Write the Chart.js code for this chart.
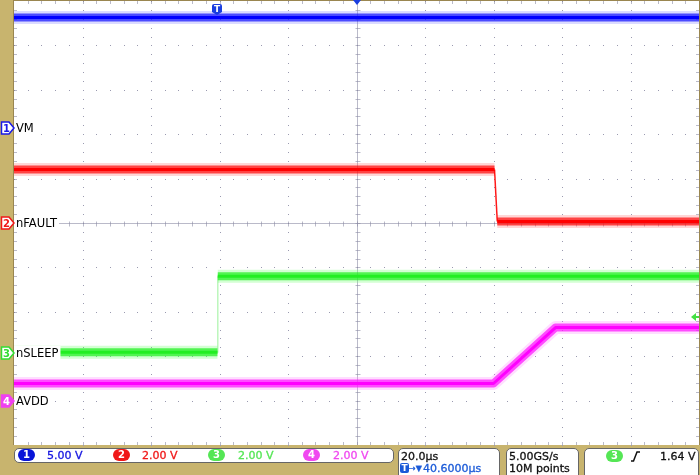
<!DOCTYPE html>
<html>
<head>
<meta charset="utf-8">
<script src="https://cdn.jsdelivr.net/npm/chart.js@4.4.0/dist/chart.umd.min.js"></script>
<style>
  html, body { margin: 0; padding: 0; background: #c8b46e; }
  #wrap { position: relative; width: 700px; height: 475px; overflow: hidden; font-family: "DejaVu Sans", sans-serif; }
  #scope { position: absolute; left: 0; top: 0; }
  .box { position: absolute; background: #fff; border: 1px solid #666; border-radius: 5px; box-sizing: border-box; }
  .txt { position: absolute; font-size: 11px; line-height: 13px; white-space: nowrap; -webkit-text-stroke: 0.3px currentColor; }
  .badge { position: absolute; top: 449px; width: 17px; height: 12px; border-radius: 6px; color: #fff;
           font: bold 10px "DejaVu Sans", sans-serif; line-height: 12px; text-align: center; }
</style>
</head>
<body>
<div id="wrap">
  <canvas id="scope" width="700" height="475"></canvas>

  <!-- vertical settings -->
  <div class="box" style="left:14px;top:448px;width:380px;height:15px"></div>
  <span class="badge" style="left:18px;background:#0814d8">1</span>
  <span class="txt" style="left:47px;top:449px;color:#1414e0">5.00 V</span>
  <span class="badge" style="left:113px;background:#f01818">2</span>
  <span class="txt" style="left:142px;top:449px;color:#f01818">2.00 V</span>
  <span class="badge" style="left:208px;background:#55e655">3</span>
  <span class="txt" style="left:238px;top:449px;color:#55e655">2.00 V</span>
  <span class="badge" style="left:303px;background:#f048f0">4</span>
  <span class="txt" style="left:333px;top:449px;color:#f048f0">2.00 V</span>

  <!-- horizontal -->
  <div class="box" style="left:398px;top:448px;width:102px;height:32px"></div>
  <span class="txt" style="left:401px;top:450px;color:#111">20.0µs</span>
  <span style="position:absolute;left:400px;top:463px;width:9px;height:10px;background:#1a5ad8;border-radius:2px;color:#fff;font:bold 9px 'DejaVu Sans';line-height:10px;text-align:center">T</span>
  <span class="txt" style="left:409px;top:462px;color:#1a5ad8;font-size:8px">→▼</span>
  <span class="txt" style="left:423px;top:462px;color:#1a5ad8">40.6000µs</span>

  <!-- acquisition -->
  <div class="box" style="left:506px;top:448px;width:73px;height:32px"></div>
  <span class="txt" style="left:509px;top:450px;color:#111">5.00GS/s</span>
  <span class="txt" style="left:509px;top:462px;color:#111">10M points</span>

  <!-- trigger -->
  <div class="box" style="left:584px;top:448px;width:115px;height:32px"></div>
  <span class="badge" style="left:606px;top:450px;background:#55e655">3</span>
  <svg style="position:absolute;left:631px;top:451px" width="9" height="11">
    <polyline points="0,10 2.5,10 6,1 9,1" fill="none" stroke="#111" stroke-width="1.5"/>
  </svg>
  <span class="txt" style="left:660px;top:450px;color:#111">1.64 V</span>
</div>

<script>
/* ==========================================
   SCOPE CAPTURE: VM / nFAULT / nSLEEP / AVDD
   ========================================== */

/* time base: 20 µs/div, trigger at 0, screen centre at +40.6 µs */
const TIME_MIN = -59.4;
const TIME_MAX = 140.6;
const TIME_PER_DIV = 20;
const triggerLevel = 1.64;   // ch3, volts

const channelNames = ["VM", "nFAULT", "nSLEEP", "AVDD"];
const voltsPerDiv = [5, 2, 2, 2];

/* ch1 VM */
const vmTime  = [-59.4, 140.6];
const vmVolts = [12.4, 12.4];
/* ch2 nFAULT */
const nfaultTime  = [-59.4, 80.9, 81.7, 140.6];
const nfaultVolts = [2.41, 2.41, 0.07, 0.07];
/* ch3 nSLEEP */
const nsleepTime  = [-59.4, 0.0, 0.1, 140.6];
const nsleepVolts = [0.04, 0.04, 3.46, 3.46];
/* ch4 AVDD */
const avddTime  = [-59.4, 80.6, 98.7, 140.6];
const avddVolts = [0.77, 0.77, 3.29, 3.29];

/* ground marker position, in divisions from screen centre */
const groundDiv = [2.15, 0, -2.93, -4.0];

const channels = [
  { axis: "y1", time: vmTime, volts: vmVolts, core: "#0000ff", mid: "rgba(20,20,255,0.72)", fringe: "rgba(110,110,255,0.25)", edge: "#0000ff", badgeFill: "#fff" },
  { axis: "y2", time: nfaultTime, volts: nfaultVolts, core: "#ff0000", mid: "rgba(255,10,10,0.72)", fringe: "rgba(255,90,90,0.25)", edge: "rgba(255,0,0,0.9)", badgeFill: "#fff" },
  { axis: "y3", time: nsleepTime, volts: nsleepVolts, core: "#22ee22", mid: "rgba(30,240,30,0.72)", fringe: "rgba(110,255,110,0.3)", edge: "rgba(60,230,60,0.35)", badgeFill: "#fff" },
  { axis: "y4", time: avddTime, volts: avddVolts, core: "#ff00ff", mid: "rgba(255,20,255,0.72)", fringe: "rgba(255,120,255,0.25)", edge: "#ff00ff", badgeFill: "#f040f0" }
];
const badgeColors = ["#1a1ae6", "#f01818", "#33dd33", "#f040f0"];

/* DATASETS */
// thick bands break at fast edges, a thin line draws the edge itself
function bandPoints(t, v) {
  const pts = [];
  for (let i = 0; i < t.length; i++) {
    pts.push({ x: t[i], y: v[i] });
    if (i < t.length - 1 && t[i + 1] - t[i] < 1) pts.push({ x: t[i], y: null });
  }
  return pts;
}
function edgePoints(t, v) {
  const pts = [];
  for (let i = 0; i < t.length - 1; i++) {
    if (t[i + 1] - t[i] < 1) {
      pts.push({ x: t[i], y: v[i] }, { x: t[i + 1], y: v[i + 1] }, { x: t[i + 1], y: null });
    }
  }
  return pts;
}

const datasets = [];
channels.forEach(ch => {
  const band = bandPoints(ch.time, ch.volts);
  const common = { yAxisID: ch.axis, pointRadius: 0, tension: 0, spanGaps: false, borderCapStyle: "butt", borderJoinStyle: "round" };
  datasets.push({ ...common, data: band, borderColor: ch.fringe, borderWidth: 13, order: 3 });
  datasets.push({ ...common, data: band, borderColor: ch.mid, borderWidth: 8, order: 2 });
  datasets.push({ ...common, data: band, borderColor: ch.core, borderWidth: 3, order: 1 });
  datasets.push({ ...common, data: edgePoints(ch.time, ch.volts), borderColor: ch.edge, borderWidth: 1.5, order: 1 });
});

/* per-channel volt axes, placed so 0 V sits on the ground marker */
const scales = {
  x: { type: "linear", min: TIME_MIN, max: TIME_MAX, display: false }
};
channels.forEach((ch, i) => {
  scales[ch.axis] = {
    type: "linear", display: false,
    min: (-5 - groundDiv[i]) * voltsPerDiv[i],
    max: (5 - groundDiv[i]) * voltsPerDiv[i]
  };
});

/* GRATICULE */
const scopeGrid = {
  id: "scopeGrid",
  beforeDatasetsDraw(chart) {
    const { ctx, chartArea: a } = chart;
    const dx = (a.right - a.left) / 10, dy = (a.bottom - a.top) / 10;
    ctx.save();
    ctx.fillStyle = "#fff";
    ctx.fillRect(a.left, a.top, a.right - a.left, a.bottom - a.top);

    ctx.fillStyle = "#9a9ab0";
    for (let i = 1; i < 10; i++) {
      if (i === 5) continue;
      const x = Math.round(a.left + i * dx);
      const y = Math.round(a.top + i * dy);
      for (let j = 0; j <= 50; j++) {
        ctx.fillRect(x, Math.round(a.top + j * dy / 5), 1, 1);
        ctx.fillRect(Math.round(a.left + j * dx / 5), y, 1, 1);
      }
    }

    const cx = Math.round(a.left + 5 * dx) + 0.5, cy = Math.round(a.top + 5 * dy) + 0.5;
    ctx.strokeStyle = "rgba(140,140,165,0.6)";
    ctx.lineWidth = 1;
    ctx.beginPath();
    ctx.moveTo(a.left, cy); ctx.lineTo(a.right, cy);
    ctx.moveTo(cx, a.top); ctx.lineTo(cx, a.bottom);
    for (let j = 1; j < 50; j++) {
      const x = Math.round(a.left + j * dx / 5) + 0.5;
      const y = Math.round(a.top + j * dy / 5) + 0.5;
      ctx.moveTo(x, cy - 2); ctx.lineTo(x, cy + 3);
      ctx.moveTo(cx - 2, y); ctx.lineTo(cx + 3, y);
      ctx.moveTo(x, a.top); ctx.lineTo(x, a.top + 3);
      ctx.moveTo(x, a.bottom); ctx.lineTo(x, a.bottom - 3);
      ctx.moveTo(a.left, y); ctx.lineTo(a.left + 3, y);
      ctx.moveTo(a.right, y); ctx.lineTo(a.right - 3, y);
    }
    ctx.stroke();

    // frame edge
    ctx.strokeStyle = "#9a8650";
    ctx.beginPath();
    ctx.moveTo(a.left - 0.5, 0); ctx.lineTo(a.left - 0.5, a.bottom);
    ctx.moveTo(a.left, 0.5); ctx.lineTo(a.right, 0.5);
    ctx.moveTo(a.right + 0.5, 0); ctx.lineTo(a.right + 0.5, a.bottom);
    ctx.stroke();
    ctx.restore();
  }
};

/* CHANNEL / TRIGGER MARKERS */
const scopeMarks = {
  id: "scopeMarks",
  afterDatasetsDraw(chart) {
    const { ctx, chartArea: a, scales: s } = chart;
    ctx.save();

    channels.forEach((ch, i) => {
      const y = Math.round(s[ch.axis].getPixelForValue(0));
      ctx.font = '11.5px "DejaVu Sans"';
      ctx.textBaseline = "middle";
      const w = ctx.measureText(channelNames[i]).width;
      ctx.fillStyle = "#fff";
      ctx.fillRect(a.left, y - 7, w + 4, 14);
      ctx.fillStyle = "#000";
      ctx.fillText(channelNames[i], a.left + 2, y + 1);

      // pentagon badge
      ctx.beginPath();
      ctx.moveTo(1.5, y - 6); ctx.lineTo(9, y - 6); ctx.lineTo(14, y);
      ctx.lineTo(9, y + 6); ctx.lineTo(1.5, y + 6); ctx.closePath();
      ctx.fillStyle = ch.badgeFill;
      ctx.fill();
      ctx.strokeStyle = badgeColors[i];
      ctx.lineWidth = 1.5;
      ctx.stroke();
      ctx.font = 'bold 10px "DejaVu Sans"';
      ctx.textAlign = "center";
      ctx.fillStyle = ch.badgeFill === "#fff" ? badgeColors[i] : "#fff";
      ctx.fillText(String(i + 1), 6.5, y + 1);
      ctx.textAlign = "left";
    });

    // trigger position "T"
    const tx = Math.round(s.x.getPixelForValue(0));
    ctx.fillStyle = "#1a3ee0";
    ctx.beginPath();
    ctx.moveTo(tx - 5, 6); ctx.quadraticCurveTo(tx - 5, 4, tx - 3, 4);
    ctx.lineTo(tx + 3, 4); ctx.quadraticCurveTo(tx + 5, 4, tx + 5, 6);
    ctx.lineTo(tx + 5, 12); ctx.lineTo(tx, 15); ctx.lineTo(tx - 5, 12); ctx.closePath();
    ctx.fill();
    ctx.fillStyle = "#fff";
    ctx.font = 'bold 9px "DejaVu Sans"';
    ctx.textAlign = "center";
    ctx.fillText("T", tx, 10);

    // horizontal position marker at screen centre
    const cx = Math.round(s.x.getPixelForValue(TIME_MIN + 5 * TIME_PER_DIV));
    ctx.fillStyle = "#1a3ee0";
    ctx.beginPath();
    ctx.moveTo(cx - 4, 0); ctx.lineTo(cx + 4, 0); ctx.lineTo(cx, 5); ctx.closePath();
    ctx.fill();

    // trigger level arrow (ch3)
    const ty = Math.round(s.y3.getPixelForValue(triggerLevel));
    ctx.fillStyle = "#44e044";
    ctx.beginPath();
    ctx.moveTo(a.right - 8, ty); ctx.lineTo(a.right - 3, ty - 4); ctx.lineTo(a.right - 3, ty + 4); ctx.closePath();
    ctx.fill();
    ctx.fillRect(a.right - 4, ty - 1, 4, 2);

    ctx.restore();
  }
};

/* CHART */
const chart = new Chart(document.getElementById("scope").getContext("2d"), {
  type: "line",
  data: { datasets },
  options: {
    responsive: false,
    devicePixelRatio: 1,
    animation: false,
    events: [],
    layout: { padding: { left: 14, top: 1, right: 1, bottom: 30 } },
    plugins: { legend: { display: false }, tooltip: { enabled: false } },
    scales
  },
  plugins: [scopeGrid, scopeMarks]
});
</script>
</body>
</html>
